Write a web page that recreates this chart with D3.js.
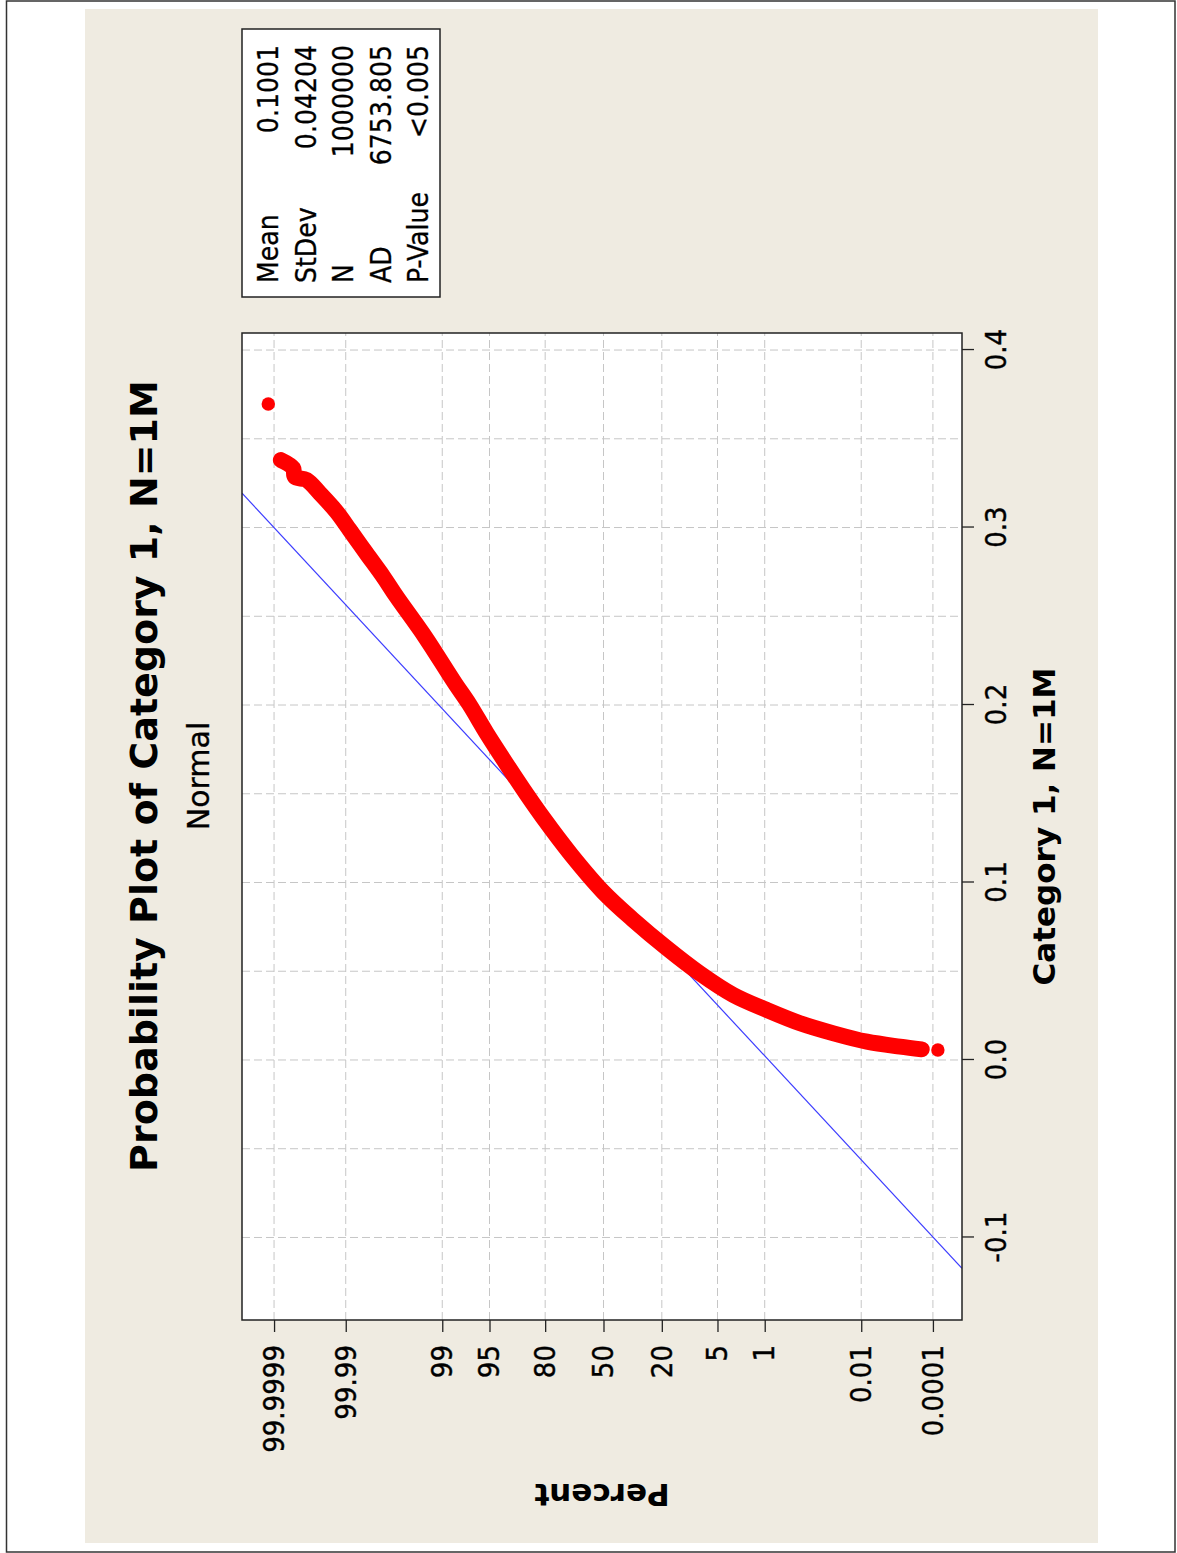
<!DOCTYPE html>
<html>
<head>
<meta charset="utf-8">
<script src="https://cdn.jsdelivr.net/npm/d3@7"></script>
<style>
  body { margin: 0; background: #fff; }
  svg { display: block; }
</style>
</head>
<body>
<div id="chart"></div>
<script>
// values: data value and its plotting percent
const sampleValues = [0.3696, 0.3380, 0.3334, 0.3286, 0.3268, 0.3193, 0.3089, 0.2986, 0.2855, 0.2723,
  0.2610, 0.2385, 0.2122, 0.2004, 0.1841, 0.1666, 0.1494, 0.1366, 0.1158, 0.0946,
  0.0789, 0.0631, 0.0487, 0.0366, 0.0282, 0.0207, 0.0150, 0.0103, 0.0075, 0.0060, 0.0056];
const samplePercents = [99.999934, 99.999838, 99.999622, 99.999577, 99.999086, 99.99787, 99.99415, 99.98746, 99.9689, 99.9256,
  99.858, 99.50, 98.39, 97.36, 95.41, 91.88, 86.52, 80.87, 68.05, 50.1,
  33.36, 18.09, 8.18, 3.05, 0.926, 0.228, 0.045, 0.0072, 0.00094, 0.00022, 0.00007];

const percentTicks = [0.0001, 0.01, 1, 5, 20, 50, 80, 95, 99, 99.99, 99.9999];
const valueTicks = [-0.1, 0, 0.1, 0.2, 0.3, 0.4];
const valueGrid = [-0.1, -0.05, 0, 0.05, 0.1, 0.15, 0.2, 0.25, 0.3, 0.35, 0.4];

const statLabels = ["Mean", "StDev", "N", "AD", "P-Value"];
const statValues = ["0.1001", "0.04204", "1000000", "6753.805", "<0.005"];
const fitMean = 0.1001;
const fitStDev = 0.04204;

// inverse normal cdf (Acklam)
function probit(p) {
  const a = [-3.969683028665376e+01, 2.209460984245205e+02, -2.759285104469687e+02, 1.383577518672690e+02, -3.066479806614716e+01, 2.506628277459239e+00];
  const b = [-5.447609879822406e+01, 1.615858368580409e+02, -1.556989798598866e+02, 6.680131188771972e+01, -1.328068155288572e+01];
  const c = [-7.784894002430293e-03, -3.223964580411365e-01, -2.400758277161838e+00, -2.549732539343734e+00, 4.374664141464968e+00, 2.938163982698783e+00];
  const d = [7.784695709041462e-03, 3.224671290700398e-01, 2.445134137142996e+00, 3.754408661907416e+00];
  const pl = 0.02425;
  if (p < pl) {
    const q = Math.sqrt(-2 * Math.log(p));
    return (((((c[0]*q+c[1])*q+c[2])*q+c[3])*q+c[4])*q+c[5]) / ((((d[0]*q+d[1])*q+d[2])*q+d[3])*q+1);
  }
  if (p <= 1 - pl) {
    const q = p - 0.5, r = q * q;
    return (((((a[0]*r+a[1])*r+a[2])*r+a[3])*r+a[4])*r+a[5])*q / (((((b[0]*r+b[1])*r+b[2])*r+b[3])*r+b[4])*r+1);
  }
  const q = Math.sqrt(-2 * Math.log(1 - p));
  return -(((((c[0]*q+c[1])*q+c[2])*q+c[3])*q+c[4])*q+c[5]) / ((((d[0]*q+d[1])*q+d[2])*q+d[3])*q+1);
}

function drawChart() {
  const width = 1177, height = 1553;
  // the chart is laid out landscape and turned a quarter turn
  const W = 1534, H = 1013;
  const plot = {left: 223, right: 1210, top: 157, bottom: 877};
  const sans = "'DejaVu Sans', Verdana, sans-serif";
  const cond = "'DejaVu Sans Condensed', 'DejaVu Sans', sans-serif";

  const svg = d3.select("#chart").append("svg")
      .attr("width", width)
      .attr("height", height);

  svg.append("rect")
      .attr("x", 6.5).attr("y", 1)
      .attr("width", 1168.5).attr("height", 1551)
      .attr("fill", "#fff")
      .attr("stroke", "#333")
      .attr("stroke-width", 1.5);

  const g = svg.append("g")
      .attr("transform", `translate(85,${9 + W}) rotate(-90)`);

  g.append("rect")
      .attr("width", W).attr("height", H)
      .attr("fill", "#efebe1");

  const x = d3.scaleLinear()
      .domain([-0.1465, 0.4096])
      .range([plot.left, plot.right]);

  const y = d3.scaleLinear()
      .domain([-5.173, 5.216])
      .range([plot.bottom, plot.top]);

  const yp = p => y(probit(p / 100));

  g.append("rect")
      .attr("x", plot.left).attr("y", plot.top)
      .attr("width", plot.right - plot.left)
      .attr("height", plot.bottom - plot.top)
      .attr("fill", "#fff");

  g.append("clipPath").attr("id", "clip")
    .append("rect")
      .attr("x", plot.left).attr("y", plot.top)
      .attr("width", plot.right - plot.left)
      .attr("height", plot.bottom - plot.top);

  const grid = g.append("g")
      .attr("stroke", "#c6c6c6")
      .attr("stroke-width", 1)
      .attr("stroke-dasharray", "8,4");

  grid.selectAll(".gx")
    .data(valueGrid)
    .join("line")
      .attr("x1", d => x(d)).attr("x2", d => x(d))
      .attr("y1", plot.top).attr("y2", plot.bottom);

  grid.selectAll(".gy")
    .data(percentTicks)
    .join("line")
      .attr("x1", plot.left).attr("x2", plot.right)
      .attr("y1", d => yp(d)).attr("y2", d => yp(d));

  const inner = g.append("g").attr("clip-path", "url(#clip)");

  // fitted normal line
  const zs = y.domain();
  inner.append("line")
      .attr("x1", x(fitMean + fitStDev * zs[0])).attr("y1", y(zs[0]))
      .attr("x2", x(fitMean + fitStDev * zs[1])).attr("y2", y(zs[1]))
      .attr("stroke", "#3c3cff")
      .attr("stroke-width", 1.2);

  const pts = sampleValues.map((v, i) => [x(v), yp(samplePercents[i])]);

  const line = d3.line().curve(d3.curveCatmullRom);

  inner.append("path")
      .attr("d", line(pts.slice(1, pts.length - 1)))
      .attr("fill", "none")
      .attr("stroke", "#ff0000")
      .attr("stroke-width", 16)
      .attr("stroke-linecap", "round")
      .attr("stroke-linejoin", "round");

  inner.selectAll("circle")
    .data(pts)
    .join("circle")
      .attr("cx", d => d[0])
      .attr("cy", d => d[1])
      .attr("r", 6.7)
      .attr("fill", "#ff0000");

  // axes
  const xAxis = g.append("g")
      .attr("transform", `translate(0,${plot.bottom})`)
      .call(d3.axisBottom(x)
        .tickValues(valueTicks)
        .tickSize(12)
        .tickPadding(11)
        .tickFormat(d => d.toFixed(1)));

  const yAxis = g.append("g")
      .attr("transform", `translate(${plot.left},0)`)
      .call(d3.axisLeft(y)
        .tickValues(percentTicks.map(p => probit(p / 100)))
        .tickSize(12)
        .tickPadding(13)
        .tickFormat((d, i) => String(percentTicks[i])));

  [xAxis, yAxis].forEach(a => {
    a.select(".domain").remove();
    a.selectAll(".tick line").attr("stroke", "#222").attr("stroke-width", 1.3);
    a.selectAll(".tick text")
        .attr("fill", "#000")
        .attr("stroke", "#000")
        .attr("stroke-width", 0.4)
        .attr("font-family", cond)
        .attr("font-size", 29);
  });

  g.append("rect")
      .attr("x", plot.left).attr("y", plot.top)
      .attr("width", plot.right - plot.left)
      .attr("height", plot.bottom - plot.top)
      .attr("fill", "none")
      .attr("stroke", "#222")
      .attr("stroke-width", 1.5);

  // titles
  g.append("text")
      .attr("x", W / 2).attr("y", 72)
      .attr("text-anchor", "middle")
      .attr("font-family", sans)
      .attr("font-weight", "bold")
      .attr("font-size", 38)
      .text("Probability Plot of Category 1, N=1M");

  g.append("text")
      .attr("x", W / 2).attr("y", 124)
      .attr("text-anchor", "middle")
      .attr("font-family", sans)
      .attr("font-size", 30)
      .attr("stroke", "#000")
      .attr("stroke-width", 0.3)
      .text("Normal");

  g.append("text")
      .attr("x", (plot.left + plot.right) / 2).attr("y", 970)
      .attr("text-anchor", "middle")
      .attr("font-family", sans)
      .attr("font-weight", "bold")
      .attr("font-size", 31)
      .text("Category 1, N=1M");

  g.append("text")
      .attr("transform", `translate(59,${(plot.top + plot.bottom) / 2}) rotate(-90)`)
      .attr("text-anchor", "middle")
      .attr("font-family", sans)
      .attr("font-weight", "bold")
      .attr("font-size", 31)
      .text("Percent");

  // stats box
  const box = g.append("g")
      .attr("font-family", cond)
      .attr("font-size", 28)
      .attr("stroke-width", 0.3);

  box.append("rect")
      .attr("x", 1246).attr("y", plot.top)
      .attr("width", 268).attr("height", 198)
      .attr("fill", "#fff")
      .attr("stroke", "#222")
      .attr("stroke-width", 1.5);

  box.selectAll(".lab")
    .data(statLabels)
    .join("text")
      .attr("x", 1260)
      .attr("y", (d, i) => 193 + i * 37.5)
      .attr("stroke", "#000")
      .text(d => d);

  box.selectAll(".val")
    .data(statValues)
    .join("text")
      .attr("x", 1498)
      .attr("y", (d, i) => 193 + i * 37.5)
      .attr("text-anchor", "end")
      .attr("stroke", "#000")
      .text(d => d);

  return svg.node();
}

drawChart();
</script>
</body>
</html>
